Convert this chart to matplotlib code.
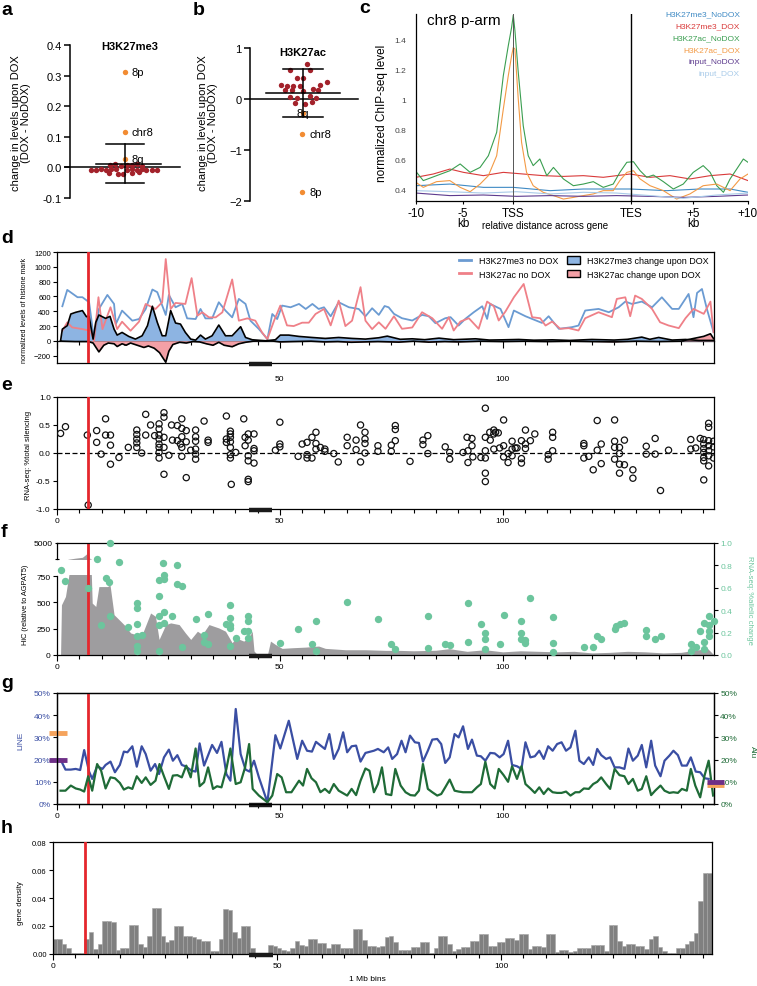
#!/usr/bin/env python3
"""Chromosome 8 histone / RNA-seq / HiC summary figure (panels a-h)."""
import matplotlib

matplotlib.use("Agg")
import matplotlib.pyplot as plt
from matplotlib.lines import Line2D
from matplotlib.patches import Patch
from matplotlib.ticker import FixedLocator, MultipleLocator

W, H = 757, 987

# ---------------------------------------------------------------- data
# a: H3K27me3 change per chromosome arm (beeswarm around x=0)
a_red_x = [-0.62, -0.53, -0.44, -0.34, -0.25, -0.16, 0.03, 0.12, 0.21, 0.30, 0.39, 0.49, 0.58,
           -0.27, -0.18, -0.08, 0.03, 0.12, 0.21, 0.30, -0.30, -0.12, -0.03, 0.12, 0.26]
a_red_y = [-0.008, -0.008, -0.006, -0.007, -0.005, -0.006, -0.008, -0.006, -0.007, -0.005, -0.008, -0.007, -0.008,
           0.008, 0.010, 0.006, 0.009, 0.007, 0.010, 0.006, -0.018, -0.020, -0.022, -0.019, -0.016]
a_hl_labels = ["8p", "chr8", "8q"]
a_hl_y = [0.313, 0.115, 0.027]
a_mean, a_sd = 0.012, (-0.052, 0.078)

# b: H3K27ac change
b_red_x = [0.07, -0.25, 0.14, -0.12, 0.0, -0.42, -0.31, -0.18, -0.05, 0.32, 0.45, -0.34, -0.21, 0.0,
           0.19, 0.29, -0.25, -0.12, 0.14, 0.25, -0.15, 0.04, 0.17]
b_red_y = [0.69, 0.57, 0.56, 0.41, 0.41, 0.27, 0.26, 0.25, 0.25, 0.27, 0.33, 0.18, 0.18, 0.16,
           0.20, 0.18, 0.03, 0.01, 0.05, 0.01, -0.08, -0.09, -0.05]
b_hl_labels = ["8q", "chr8", "8p"]
b_hl_y = [-0.28, -0.69, -1.82]
b_mean, b_sd = 0.11, (-0.36, 0.59)

# c: metagene profiles (x in % of plotted span; TSS / TES positions)
c_tss, c_tes = 29.3, 64.8
c_tick_pos = [0, 14.2, 29.3, 64.8, 83.4, 100]
c_tick_lab = ["-10", "-5", "TSS", "TES", "+5", "+10"]
c_names = ["H3K27me3_NoDOX", "H3K27me3_DOX", "H3K27ac_NoDOX", "H3K27ac_DOX", "input_NoDOX", "input_DOX"]
c_colors = ["#3f8ac4", "#d93a3a", "#3a9e50", "#f39a45", "#5d3b8e", "#a9cbe9"]
c_me3_nodox_x = [0, 10.2, 20.3, 29.3, 40.4, 50.4, 64.5, 75.5, 85.5, 94.6, 100]
c_me3_nodox_y = [0.422, 0.433, 0.411, 0.411, 0.389, 0.4, 0.4, 0.389, 0.4, 0.4, 0.378]
c_me3_dox_x = [0, 5.2, 10.2, 14.3, 20.3, 26.3, 32.3, 38.3, 44.4, 50.4, 56.4, 60.4, 64.5, 70.5,
               76.5, 82.5, 88.6, 94.6, 100]
c_me3_dox_y = [0.478, 0.5, 0.533, 0.511, 0.489, 0.511, 0.5, 0.489, 0.484, 0.489, 0.478, 0.489, 0.5,
               0.478, 0.489, 0.467, 0.489, 0.5, 0.456]
c_ac_nodox_x = [0, 2.2, 6.2, 10.2, 13.3, 16.3, 19.3, 21.8, 24.3, 26.3, 27.8, 28.8, 29.3, 29.8, 30.8,
                32.3, 33.8, 35.3, 37.3, 39.4, 41.4, 44.4, 47.4, 50.4, 53.4, 56.4, 59.4, 61.4, 63.5,
                65.5, 67.5, 69.5, 71.5, 74.5, 77.5, 80.5, 83.5, 86.5, 88.6, 90.6, 92.6, 94.6, 96.6,
                98.6, 100]
c_ac_nodox_y = [0.516, 0.456, 0.489, 0.522, 0.567, 0.511, 0.544, 0.622, 0.778, 1.156, 1.356, 1.478,
                1.56, 1.456, 1.178, 0.822, 0.622, 0.556, 0.600, 0.489, 0.544, 0.467, 0.422, 0.433,
                0.449, 0.411, 0.433, 0.511, 0.578, 0.582, 0.522, 0.478, 0.493, 0.449, 0.400, 0.433,
                0.511, 0.556, 0.511, 0.422, 0.378, 0.467, 0.533, 0.600, 0.578]
c_ac_dox_x = [0, 2.2, 6.2, 10.2, 13.3, 16.3, 19.3, 21.8, 24.3, 26.3, 27.8, 28.8, 29.3, 29.8, 30.8,
              31.8, 33.3, 35.3, 38.3, 41.4, 44.4, 47.4, 50.4, 53.4, 56.4, 59.4, 61.4, 63.5, 65.5,
              67.5, 70.5, 74.5, 78.5, 82.5, 86.5, 90.6, 94.6, 97.6, 100]
c_ac_dox_y = [0.444, 0.411, 0.449, 0.456, 0.411, 0.382, 0.433, 0.489, 0.622, 0.933, 1.156, 1.289,
              1.344, 1.333, 1.0, 0.711, 0.511, 0.422, 0.378, 0.356, 0.333, 0.344, 0.356, 0.367,
              0.389, 0.389, 0.456, 0.511, 0.522, 0.467, 0.422, 0.389, 0.333, 0.367, 0.422, 0.433,
              0.389, 0.467, 0.5]
c_input_x = [0, 10.2, 20.3, 30.3, 40.4, 50.4, 60.4, 70.5, 80.5, 90.6, 100]
c_input_nodox_y = [0.373, 0.356, 0.36, 0.351, 0.356, 0.351, 0.356, 0.351, 0.344, 0.351, 0.36]
c_input_dox_y = [0.389, 0.382, 0.373, 0.382, 0.367, 0.378, 0.373, 0.356, 0.338, 0.36, 0.373]

# chromosome-wide panels: x in Mb
red_mark = 7.0
centromere = (43.0, 48.3)

# d: (Mb, level) pairs
d_me3 = [(1.2, 467), (2.3, 688), (4.6, 589), (5.7, 589), (7.2, 521), (8.3, 23), (9.4, 430), (11.3, 620),
         (12.8, 498), (13.2, 226), (14.6, 408), (16.9, 272), (18.4, 294), (19.9, 430), (21.4, 693),
         (22.5, 657), (24.4, 349), (25.1, 620), (26.6, 453), (28.1, 498), (29.2, 303), (31.1, 294),
         (32.2, 430), (33.3, 303), (34.8, 303), (36.3, 521), (37.8, 408), (39.3, 317), (40.8, 566),
         (42.3, 498), (43.4, 272), (45.3, 159), (47.2, 23), (48.3, 362), (49.4, 294), (50.5, 476),
         (52.4, 453), (54.3, 498), (55.8, 430), (57.3, 498), (58.7, 430), (59.9, 453), (61.4, 331),
         (63.2, 521), (65.5, 453), (67.7, 430), (69.2, 331), (70.7, 440), (72.2, 350), (73.5, 470),
         (74.4, 453), (75.6, 364), (77.4, 305), (79.7, 274), (81.9, 350), (83.4, 332), (84.9, 238),
         (87.1, 305), (88.3, 319), (90.1, 206), (91.6, 296), (93.5, 386), (95.4, 467), (96.5, 296),
         (97.2, 498), (99.5, 431), (101.3, 184), (102.5, 409), (105.1, 332), (108.8, 242), (110.3, 332),
         (112.6, 162), (115.5, 184), (117.0, 206), (118.5, 409), (121.5, 431), (123.8, 386), (126.0, 453),
         (127.5, 530), (129.0, 498), (131.2, 530), (133.5, 453), (135.7, 588), (138.0, 431), (139.5, 431),
         (141.7, 633), (142.8, 319), (143.6, 647), (144.7, 700), (145.8, 431), (147.3, 117)]
d_ac = [(1.2, 136), (2.3, 249), (3.4, 181), (5.7, 158), (7.5, 136), (8.3, 0), (9.3, 589), (10.2, 158),
        (12.0, 453), (13.5, 158), (14.6, 258), (16.5, 136), (18.4, 258), (19.9, 498), (22.1, 430),
        (23.6, 521), (24.4, 1105), (25.5, 430), (26.6, 512), (28.8, 498), (30.2, 847), (31.5, 340),
        (32.6, 385), (34.1, 317), (35.6, 317), (37.1, 385), (39.3, 829), (40.8, 272), (42.7, 303),
        (44.5, 272), (46.0, 113), (47.2, 23), (48.7, 272), (50.1, 476), (51.6, 208), (53.1, 199),
        (55.0, 245), (56.5, 245), (58.0, 362), (59.9, 430), (61.4, 208), (63.2, 543), (64.7, 199),
        (66.2, 272), (68.1, 725), (69.2, 272), (70.7, 158), (72.2, 250), (73.7, 162), (75.6, 332),
        (77.4, 162), (79.7, 180), (81.9, 386), (84.2, 305), (86.4, 162), (87.9, 319), (89.0, 139),
        (90.5, 260), (92.4, 305), (94.6, 162), (96.5, 530), (98.0, 467), (99.1, 274), (100.6, 395),
        (102.5, 588), (104.7, 768), (106.6, 319), (108.4, 305), (109.6, 206), (111.1, 260), (112.9, 162),
        (114.8, 171), (117.0, 139), (118.5, 305), (121.5, 386), (124.5, 319), (125.6, 566), (127.5, 588),
        (128.6, 332), (129.7, 611), (131.2, 566), (133.5, 431), (135.3, 251), (137.2, 207), (139.5, 171),
        (141.0, 305), (142.8, 431), (145.1, 364), (146.6, 530), (147.3, 117)]
d_me3_change = [(0.8, 0), (1.2, 158), (2.3, 204), (3.1, 362), (4.2, 385), (5.7, 408), (6.6, 326),
                (7.2, 330), (8.1, 23), (8.7, 249), (9.4, 349), (10.9, 303), (11.9, 330), (12.8, 158),
                (13.5, 77), (14.6, 113), (16.1, 59), (17.6, 23), (19.1, 68), (20.3, 204), (21.4, 467),
                (22.5, 249), (23.6, 68), (24.4, 68), (25.5, 408), (26.6, 240), (27.7, 226), (28.8, 113),
                (30.0, 23), (31.1, 9), (32.2, 77), (33.3, 23), (34.8, 68), (36.3, 213), (37.8, 68),
                (39.3, 68), (41.2, 190), (42.3, 45), (43.8, 14), (46.8, 0), (49.0, 14), (50.1, 77),
                (52.0, 77), (54.3, 59), (57.2, 45), (60.2, 32), (63.2, 45), (66.2, 32), (69.2, 23),
                (72.2, 41), (74.1, 63), (77.0, 20), (79.7, 27), (82.5, 15), (85.7, 36), (89.0, 15),
                (93.9, 27), (97.0, 10), (99.9, 13), (103.6, 18), (107.0, 8), (111.1, 13), (115.0, 5),
                (120.0, 18), (125.0, 10), (128.0, 20), (131.2, 50), (133.0, 20), (135.0, 45), (138.0, 10),
                (141.0, 18), (144.0, 5), (147.3, 5)]
d_ac_change = [(0.8, 0), (1.2, -5), (4.0, -10), (7.0, -10), (8.1, -30), (9.4, -150), (10.5, -60),
               (11.5, -30), (12.8, -40), (13.5, -77), (14.6, -40), (15.5, -60), (16.5, -30), (18.0, -60),
               (19.5, -90), (20.5, -70), (21.8, -100), (23.0, -160), (24.4, -290), (25.1, -140),
               (26.0, -50), (27.5, -20), (29.0, -30), (30.5, -10), (32.0, -15), (33.5, -40), (35.0, -60),
               (36.3, -20), (37.5, -60), (39.3, -80), (40.8, -40), (42.3, -20), (44.0, -5), (46.0, 0),
               (48.0, 0), (50.0, -15), (53.0, -10), (57.0, -5), (60.0, -15), (63.0, -10), (66.0, -20),
               (69.0, -15), (72.0, -10), (76.7, -18), (80.0, -5), (83.4, -18), (87.0, -10), (90.0, -15),
               (95.0, -5), (100.0, -10), (105.0, -5), (110.0, -10), (115.0, -5), (120.0, -10),
               (125.0, -15), (130.0, -5), (135.0, -10), (140.0, -5), (142.7, 30), (145.1, 60),
               (146.6, 95), (147.3, 30)]

# e: RNA-seq total silencing per gene (Mb, fraction)
e_genes = [(0.8, 0.35), (1.9, 0.47), (6.8, 0.32), (7.0, -0.93), (8.9, 0.40), (8.9, 0.19), (9.9, -0.02),
           (10.9, 0.61), (10.9, 0.32), (12.0, 0.32), (12.0, 0.14), (12.0, -0.20), (13.9, -0.08), (16.0, 0.10),
           (17.9, 0.41), (17.9, 0.33), (17.9, 0.25), (17.9, 0.18), (17.9, 0.10), (19.0, 0.0), (19.9, 0.69),
           (19.9, 0.32), (21.0, 0.50), (21.9, 0.31), (22.9, 0.52), (22.9, 0.43), (22.9, 0.32), (22.9, 0.25),
           (22.9, 0.16), (22.9, 0.10), (22.9, 0.01), (22.9, -0.09), (24.0, 0.72), (24.0, 0.64), (24.0, 0.28),
           (24.0, 0.10), (24.0, -0.38), (25.1, -0.04), (25.7, 0.50), (25.9, 0.23), (27.0, 0.49), (27.0, 0.22),
           (27.7, 0.16), (28.0, 0.61), (28.0, 0.44), (28.0, 0.29), (28.0, 0.10), (28.0, -0.06), (29.0, 0.40),
           (29.0, 0.20), (29.0, -0.44), (30.0, 0.05), (31.1, 0.41), (31.1, 0.29), (31.1, 0.21), (31.1, 0.07),
           (31.1, -0.02), (31.1, -0.11), (33.0, 0.57), (33.9, 0.23), (33.9, 0.19), (38.0, 0.66), (38.0, 0.25),
           (38.0, 0.19), (38.9, 0.39), (38.9, 0.34), (38.9, 0.28), (38.9, 0.20), (38.9, 0.10), (38.9, -0.03),
           (38.9, -0.09), (39.1, -0.56), (40.1, 0.01), (41.9, 0.61), (42.2, 0.28), (42.2, 0.13), (42.9, 0.34),
           (42.9, 0.23), (42.9, -0.05), (42.9, -0.14), (42.9, -0.47), (42.9, -0.51), (44.2, 0.34), (44.2, 0.08),
           (44.2, 0.04), (44.2, -0.18), (49.0, 0.05), (50.0, 0.55), (50.0, 0.16), (50.0, 0.11), (54.1, -0.06),
           (55.0, 0.16), (56.1, 0.19), (56.1, -0.03), (56.1, -0.09), (57.2, 0.28), (57.2, -0.09), (58.1, 0.37),
           (58.1, 0.17), (58.1, 0.07), (59.1, 0.10), (60.1, 0.07), (60.1, 0.03), (62.1, -0.01), (63.1, -0.16),
           (65.1, 0.28), (65.1, 0.13), (67.1, 0.23), (67.1, 0.06), (68.1, 0.50), (68.1, -0.16), (69.1, 0.37),
           (69.1, 0.25), (69.1, 0.17), (69.1, 0.0), (72.0, 0.13), (72.0, 0.03), (75.0, 0.14), (75.0, 0.03),
           (75.9, 0.49), (75.9, 0.42), (75.9, 0.22), (79.2, -0.15), (82.1, 0.23), (82.1, 0.15), (83.2, 0.31),
           (83.2, -0.01), (87.1, 0.11), (88.1, 0.01), (88.1, -0.11), (91.1, 0.01), (92.0, 0.28), (92.2, 0.04),
           (92.2, -0.17), (93.1, 0.26), (93.1, 0.13), (93.3, -0.07), (95.1, -0.08), (96.1, 0.80), (96.1, 0.28),
           (96.1, 0.04), (96.1, -0.09), (96.1, -0.36), (96.1, -0.51), (97.1, 0.37), (97.2, 0.23), (98.0, 0.41),
           (98.0, 0.34), (98.4, 0.37), (99.0, 0.36), (98.0, 0.07), (99.3, 0.09), (100.2, 0.59), (100.2, 0.13),
           (100.2, -0.07), (101.2, -0.01), (101.2, -0.17), (102.1, 0.21), (102.1, 0.07), (102.1, -0.05),
           (102.8, 0.09), (103.2, 0.09), (104.2, 0.22), (104.2, -0.10), (104.2, -0.18), (105.1, 0.41),
           (105.1, 0.16), (105.1, 0.08), (106.2, 0.22), (107.2, 0.34), (110.2, -0.03), (110.2, -0.11),
           (111.2, 0.37), (111.2, 0.28), (111.2, 0.04), (118.2, 0.17), (118.2, 0.13), (118.2, -0.09),
           (119.3, -0.06), (120.3, -0.30), (121.2, 0.58), (121.2, 0.05), (122.1, 0.16), (122.1, -0.19),
           (125.1, 0.59), (125.1, 0.21), (125.1, 0.10), (125.1, -0.11), (126.2, 0.10), (126.2, -0.01),
           (126.2, -0.20), (126.2, -0.36), (127.3, 0.23), (127.3, -0.21), (129.2, -0.30), (129.2, -0.45),
           (132.2, 0.12), (132.2, -0.02), (134.2, 0.26), (134.2, -0.02), (135.4, -0.67), (137.2, 0.05),
           (142.2, 0.24), (142.2, 0.07), (143.3, 0.09), (144.3, 0.26), (145.1, 0.24), (145.1, 0.16),
           (145.1, 0.08), (145.1, 0.01), (145.1, -0.08), (145.1, -0.14), (145.1, -0.48), (146.2, 0.53),
           (146.2, 0.46), (146.2, 0.22), (146.2, 0.13), (146.2, 0.04), (146.2, -0.05), (146.2, -0.23),
           (147.3, 0.21), (147.3, 0.11), (147.3, -0.09)]

# f: HiC contact (relative to AGPAT5) and RNA-seq allelic change
f_hic = [(0.8, 0), (1.0, 477), (1.9, 556), (2.7, 770), (2.9, 800), (4.0, 1000), (5.7, 1250), (6.6, 2100),
         (6.95, 5000), (7.2, 1500), (7.4, 800), (7.7, 770), (7.9, 493), (8.7, 461), (9.4, 650), (11.3, 650),
         (11.9, 665), (12.8, 383), (14.3, 320), (15.4, 273), (16.5, 210), (17.6, 195), (19.1, 195),
         (21.0, 399), (22.1, 367), (22.9, 148), (24.4, 289), (25.5, 305), (27.4, 289), (28.8, 210),
         (30.0, 148), (31.5, 226), (32.6, 195), (34.1, 289), (36.3, 257), (37.8, 226), (39.3, 116),
         (40.1, 163), (41.9, 132), (43.0, 163), (43.8, 226), (44.2, 38), (44.9, 6), (47.2, 0), (47.9, 132),
         (49.0, 100), (50.5, 63), (52.8, 69), (55.8, 75), (58.7, 85), (60.2, 63), (64.7, 50), (69.2, 50),
         (73.7, 44), (76.7, 44), (80, 40), (85, 45), (88, 60), (92, 35), (96, 50), (100, 30), (104, 40),
         (108, 35), (112, 30), (116, 35), (120, 20), (124, 25), (128, 35), (132, 30), (136, 20), (140, 25),
         (144, 50), (146, 60), (147.4, 0)]
f_rna = [(0.8, 0.76), (1.9, 0.66), (7.0, 0.60), (8.9, 0.86), (9.9, 0.27), (10.9, 0.69), (11.7, 0.65),
         (12.0, 1.0), (12.0, 0.35), (13.9, 0.83), (16.0, 0.25), (17.9, 0.46), (17.9, 0.42), (17.9, 0.28),
         (17.9, 0.17), (17.9, 0.08), (17.9, 0.04), (19.0, 0.18), (22.9, 0.67), (22.9, 0.53), (22.9, 0.35),
         (22.9, 0.27), (22.9, 0.04), (23.8, 0.82), (24.0, 0.71), (24.0, 0.68), (24.0, 0.38), (24.0, 0.29),
         (25.9, 0.35), (27.0, 0.80), (27.0, 0.63), (28.0, 0.62), (28.0, 0.07), (31.1, 0.32), (33.0, 0.18),
         (33.0, 0.12), (33.9, 0.37), (33.9, 0.10), (38.0, 0.28), (38.9, 0.45), (38.9, 0.33), (38.9, 0.27),
         (38.9, 0.24), (38.9, 0.08), (40.1, 0.15), (41.9, 0.21), (42.9, 0.35), (42.9, 0.30), (42.9, 0.21),
         (42.9, 0.15), (50.0, 0.11), (54.1, 0.23), (57.2, 0.10), (58.1, 0.30), (58.1, 0.04), (65.1, 0.47),
         (72.0, 0.32), (75.0, 0.10), (75.9, 0.05), (83.2, 0.35), (83.2, 0.06), (87.1, 0.10), (88.1, 0.09),
         (92.2, 0.46), (92.2, 0.12), (95.1, 0.28), (96.1, 0.20), (96.1, 0.14), (96.1, 0.05), (99.3, 0.10),
         (100.2, 0.36), (104.2, 0.30), (104.2, 0.20), (104.2, 0.14), (105.1, 0.13), (105.1, 0.11),
         (106.2, 0.51), (111.2, 0.34), (111.2, 0.11), (111.2, 0.03), (118.2, 0.07), (120.3, 0.07),
         (121.2, 0.17), (122.1, 0.14), (125.1, 0.23), (125.4, 0.26), (126.2, 0.28), (127.3, 0.29),
         (132.2, 0.22), (132.2, 0.17), (134.2, 0.14), (135.4, 0.17), (142.2, 0.10), (142.2, 0.04),
         (143.3, 0.07), (144.3, 0.21), (145.1, 0.29), (145.1, 0.12), (145.1, 0.05), (146.2, 0.35),
         (146.2, 0.27), (146.2, 0.21), (146.2, 0.17), (147.3, 0.30)]

# g: repeat content (% per bin)
g_line = [(0.1, 20.3), (0.8, 20.0), (1.9, 15.5), (3.1, 15.5), (4.2, 15.8), (5.2, 15.3), (6.1, 24.3),
          (7.2, 14.6), (7.9, 11.3), (9.0, 17.0), (10.2, 15.8), (10.9, 17.6), (12.0, 19.1), (13.0, 14.3),
          (14.1, 17.6), (15.0, 23.6), (15.8, 23.3), (16.9, 26.0), (17.9, 16.8), (19.0, 26.0), (19.9, 22.5),
          (21.0, 15.0), (22.0, 18.0), (22.9, 13.5), (24.0, 21.0), (25.1, 24.5), (26.0, 19.5), (27.0, 22.0),
          (28.0, 17.6), (28.8, 17.0), (30.2, 15.0), (31.1, 14.6), (32.0, 27.3), (33.0, 17.3), (34.8, 26.6),
          (35.9, 23.0), (36.9, 28.0), (38.0, 13.5), (38.9, 10.5), (40.1, 42.8), (41.2, 22.5), (42.3, 15.5),
          (43.2, 14.6), (44.2, 19.5), (45.3, 12.0), (47.2, 0.8), (49.0, 31.0), (50.1, 25.0), (52.0, 37.5),
          (53.9, 20.3), (55.0, 28.5), (56.1, 24.0), (57.2, 23.6), (58.1, 28.0), (60.1, 24.8), (61.1, 31.5),
          (62.1, 20.3), (63.2, 24.8), (64.2, 32.3), (65.1, 23.3), (66.1, 26.0), (67.1, 26.3), (68.1, 19.1),
          (69.2, 23.0), (71.1, 24.0), (72.0, 24.8), (73.3, 23.3), (74.3, 25.5), (75.2, 20.3), (76.3, 22.5),
          (77.3, 28.5), (78.2, 23.3), (79.2, 30.8), (80.3, 27.8), (81.2, 27.5), (82.1, 19.1), (83.2, 24.0),
          (84.2, 29.0), (85.3, 29.3), (86.2, 27.0), (87.1, 18.5), (88.1, 21.0), (89.2, 31.5), (90.1, 30.0),
          (91.1, 35.0), (92.2, 24.8), (93.1, 29.0), (94.2, 21.8), (95.1, 21.5), (96.1, 19.5), (97.2, 23.0),
          (98.2, 22.8), (99.3, 21.0), (100.2, 22.5), (101.2, 28.5), (102.1, 17.6), (103.2, 17.0),
          (104.2, 15.8), (105.1, 27.8), (106.2, 21.0), (107.2, 21.5), (108.2, 24.0), (109.2, 20.3),
          (110.2, 26.0), (111.2, 24.0), (112.2, 27.0), (113.2, 27.8), (114.2, 24.0), (115.2, 25.5),
          (116.3, 33.0), (117.2, 19.5), (118.2, 18.0), (119.3, 21.0), (120.3, 17.6), (121.2, 24.8),
          (122.1, 22.0), (123.2, 20.3), (124.1, 21.0), (125.1, 16.5), (126.2, 16.5), (127.3, 15.8),
          (128.2, 25.0), (129.2, 19.5), (130.3, 21.8), (131.2, 26.6), (132.2, 16.5), (133.3, 28.5),
          (134.2, 17.3), (135.4, 12.5), (136.3, 19.5), (137.4, 21.8), (138.3, 24.0), (139.3, 22.0),
          (140.2, 17.3), (141.3, 17.3), (142.2, 21.0), (143.3, 14.6), (144.3, 14.3), (145.3, 11.6),
          (146.2, 11.3)]
g_alu = [(0.8, 6.0), (1.9, 6.0), (3.1, 8.3), (4.2, 7.0), (5.2, 6.5), (6.1, 5.6), (7.0, 12.5), (7.9, 6.0),
         (9.0, 18.0), (9.9, 15.0), (10.9, 7.0), (12.0, 12.0), (13.0, 11.6), (14.1, 9.5), (15.0, 6.5),
         (16.0, 7.5), (16.9, 6.8), (17.9, 12.5), (19.0, 9.5), (19.9, 12.0), (21.0, 8.6), (22.1, 10.5),
         (23.0, 18.0), (24.0, 12.5), (25.1, 6.8), (26.0, 12.8), (27.0, 13.0), (28.0, 12.0), (29.0, 17.3),
         (30.0, 12.0), (31.1, 25.0), (32.0, 8.0), (33.0, 9.8), (33.9, 16.5), (35.0, 6.8), (35.9, 8.0),
         (36.9, 7.5), (38.0, 15.8), (38.9, 25.0), (40.1, 9.0), (41.2, 9.8), (42.2, 16.5), (43.1, 27.0),
         (43.9, 6.8), (45.3, 3.8), (47.2, 0.8), (48.3, 3.8), (49.4, 13.5), (50.4, 12.0), (51.4, 5.3),
         (52.6, 5.3), (54.3, 10.5), (55.2, 8.3), (56.1, 15.8), (57.1, 11.6), (58.1, 9.8), (59.1, 5.3),
         (60.1, 6.8), (61.1, 5.0), (62.1, 9.0), (63.2, 6.0), (65.1, 3.8), (66.1, 6.8), (67.1, 4.0),
         (68.1, 10.5), (69.2, 16.0), (70.1, 15.0), (71.1, 5.3), (72.0, 9.0), (72.9, 16.5), (73.8, 4.5),
         (75.0, 4.0), (75.9, 15.8), (77.1, 8.3), (78.2, 5.3), (79.3, 4.0), (80.3, 3.8), (81.2, 6.0),
         (82.1, 18.0), (83.2, 6.8), (84.2, 5.3), (85.3, 3.8), (86.2, 4.5), (87.1, 7.5), (88.1, 11.0),
         (89.2, 6.0), (90.1, 5.6), (91.1, 5.3), (92.2, 5.3), (93.1, 5.3), (94.2, 7.5), (95.1, 9.0),
         (96.1, 19.0), (97.2, 9.0), (98.2, 7.0), (99.1, 15.8), (100.2, 13.0), (101.2, 10.0), (102.1, 17.0),
         (103.2, 11.3), (104.2, 17.0), (105.1, 9.0), (106.2, 7.0), (107.2, 5.0), (108.2, 7.5), (109.2, 4.5),
         (110.2, 7.0), (111.2, 5.3), (112.2, 5.0), (113.2, 5.0), (114.2, 5.6), (115.2, 3.8), (116.3, 5.3),
         (117.2, 5.3), (118.2, 7.0), (119.3, 6.8), (120.3, 9.0), (121.2, 10.0), (122.1, 12.0), (123.2, 9.0),
         (124.1, 6.8), (125.1, 15.8), (126.2, 13.0), (127.3, 12.5), (128.2, 9.0), (129.2, 11.3),
         (130.3, 6.0), (131.2, 6.8), (132.2, 12.5), (133.3, 4.0), (134.2, 6.0), (135.4, 8.3), (136.3, 6.0),
         (137.4, 5.0), (138.3, 5.3), (139.3, 5.0), (140.2, 6.8), (141.3, 6.0), (142.2, 15.8), (143.2, 8.3),
         (144.3, 3.0), (145.3, 13.0), (146.2, 19.5), (147.2, 3.8)]
# genome-wide averages shown as short bars at the axis edges (LINE, Alu)
g_avg_left = {"orange": 32.0, "purple": 20.0}
g_avg_right = {"orange": 8.5, "purple": 10.0}

# h: gene density per 1 Mb bin
h_density = [0.011, 0.011, 0.0075, 0.0043, 0.0006, 0.0006, 0.0006, 0.011, 0.0156, 0.0035,
             0.0075, 0.0235, 0.0235, 0.023, 0.003, 0.0043, 0.0043, 0.0205, 0.0205, 0.007,
             0.005, 0.013, 0.033, 0.033, 0.013, 0.0085, 0.010, 0.020, 0.020, 0.0127,
             0.0127, 0.012, 0.0105, 0.009, 0.009, 0.0022, 0.0022, 0.011, 0.032, 0.0315,
             0.016, 0.0115, 0.020, 0.020, 0.0043, 0.0007, 0.0007, 0.0007, 0.0065, 0.0055,
             0.0046, 0.003, 0.0025, 0.004, 0.009, 0.0065, 0.006, 0.011, 0.011, 0.008,
             0.008, 0.004, 0.0075, 0.0075, 0.0045, 0.0045, 0.004, 0.018, 0.018, 0.010,
             0.006, 0.006, 0.005, 0.0055, 0.0125, 0.013, 0.0085, 0.003, 0.003, 0.003,
             0.0053, 0.0053, 0.0085, 0.0085, 0.001, 0.0043, 0.013, 0.013, 0.0072, 0.0024,
             0.0036, 0.0053, 0.0053, 0.0096, 0.0096, 0.0144, 0.0144, 0.006, 0.006, 0.0085,
             0.0085, 0.0115, 0.0115, 0.0103, 0.0144, 0.0144, 0.0036, 0.0055, 0.0055, 0.0048,
             0.0144, 0.0144, 0.0012, 0.003, 0.003, 0.0012, 0.002, 0.004, 0.004, 0.004,
             0.0065, 0.0065, 0.0065, 0.002, 0.021, 0.021, 0.009, 0.006, 0.0072, 0.0072,
             0.0055, 0.0055, 0.0036, 0.0108, 0.0127, 0.0048, 0.0024, 0.0005, 0.0005, 0.004,
             0.004, 0.0072, 0.0096, 0.015, 0.0377, 0.058, 0.058, 0.0115]

# ---------------------------------------------------------------- style
RED_DOT = "#a3222b"
ORANGE = "#f28c32"
RED_LINE = "#e5272d"
ME3_BLUE = "#6b9bd2"
AC_RED = "#ef8088"
ME3_FILL = "#8db4e2"
AC_FILL = "#f3a0a6"
HIC_GRAY = "#9e9d9f"
RNA_GREEN = "#6cc59d"
LINE_BLUE = "#3a4ea3"
ALU_GREEN = "#1f6b37"
XMAX = 147.4

plt.rcParams["font.family"] = ["Liberation Sans", "DejaVu Sans"]
plt.rcParams["axes.linewidth"] = 0.9


def box(l, t, r, b):
    """pixel box (left, top, right, bottom) -> figure fraction rect"""
    return [l / W, 1 - b / H, (r - l) / W, (b - t) / H]


def xy(pairs):
    return [p[0] for p in pairs], [p[1] for p in pairs]


def fig_text(x, y, s, **kw):
    fig.text(x / W, 1 - y / H, s, **kw)


def bin_ticks(ax, labels=True, size=6):
    ax.xaxis.set_major_locator(FixedLocator([0, 50, 100]))
    ax.xaxis.set_minor_locator(MultipleLocator(5))
    ax.tick_params(axis="x", which="major", length=4, width=0.8, labelsize=size, pad=2,
                   labelbottom=labels)
    ax.tick_params(axis="x", which="minor", length=3, width=0.8)


def mark_centromere(ax, x0, x1):
    ax.plot([x0, x1], [-0.012, -0.012], transform=ax.get_xaxis_transform(), color="#1a1a1a",
            lw=3.2, solid_capstyle="butt", clip_on=False, zorder=6)


fig = plt.figure(figsize=(W / 100, H / 100), dpi=100)

# ---------------------------------------------------------------- a
ax = fig.add_axes(box(70, 46, 180, 199))
ax.set_xlim(-1, 1)
ax.set_ylim(-0.1, 0.4)
for s in ("top", "right", "bottom"):
    ax.spines[s].set_visible(False)
ax.spines["left"].set_linewidth(1.1)
ax.set_xticks([])
ax.set_yticks([-0.1, 0, 0.1, 0.2, 0.3, 0.4])
ax.set_yticklabels(["-0.1", "0.0", "0.1", "0.2", "0.3", "0.4"])
ax.tick_params(axis="y", labelsize=8, length=4, width=1.1, pad=2)
ax.plot([-1.09, 1.0], [0, 0], color="k", lw=1.1, clip_on=False, zorder=2)
ax.scatter(a_red_x, a_red_y, s=15, color=RED_DOT, zorder=3, linewidths=0)
ax.scatter([0] * len(a_hl_y), a_hl_y, s=15, color=ORANGE, zorder=3, linewidths=0)
for lab, yv in zip(a_hl_labels, a_hl_y):
    ax.text(0.11, yv, lab, fontsize=8, va="center", ha="left", zorder=5)
ax.plot([-0.52, 0.66], [a_mean, a_mean], color="k", lw=1.1, zorder=4)
ax.plot([0, 0], a_sd, color="k", lw=1.1, zorder=4)
for yv in a_sd:
    ax.plot([-0.34, 0.34], [yv, yv], color="k", lw=1.1, zorder=4)
ax.text(0.09, 0.397, "H3K27me3", fontsize=8, fontweight="bold", ha="center", va="center")
fig_text(21, 123, "change in levels upon DOX\n(DOX - NoDOX)", rotation=90, ha="center",
         va="center", fontsize=8, linespacing=1.1)

# ---------------------------------------------------------------- b
ax = fig.add_axes(box(250, 49, 360, 202))
ax.set_xlim(-1, 1.075)
ax.set_ylim(-2, 1)
for s in ("top", "right", "bottom"):
    ax.spines[s].set_visible(False)
ax.spines["left"].set_linewidth(1.1)
ax.set_xticks([])
ax.set_yticks([-2, -1, 0, 1])
ax.tick_params(axis="y", labelsize=8, length=4, width=1.1, pad=2)
ax.plot([-1, 1.04], [0, 0], color="k", lw=1.1, zorder=2)
ax.scatter(b_red_x, b_red_y, s=15, color=RED_DOT, zorder=3, linewidths=0)
ax.scatter([0, -0.01, -0.01], b_hl_y, s=15, color=ORANGE, zorder=3, linewidths=0)
ax.text(0.0, b_hl_y[0], b_hl_labels[0], fontsize=8, ha="center", va="center", zorder=5)
for lab, yv in zip(b_hl_labels[1:], b_hl_y[1:]):
    ax.text(0.12, yv, lab, fontsize=8, va="center", ha="left")
ax.plot([-0.69, 0.70], [b_mean, b_mean], color="k", lw=1.1, zorder=4)
ax.plot([0, 0], b_sd, color="k", lw=1.1, zorder=4)
for yv in b_sd:
    ax.plot([-0.37, 0.37], [yv, yv], color="k", lw=1.1, zorder=4)
ax.text(0.0, 0.92, "H3K27ac", fontsize=8, fontweight="bold", ha="center", va="center")
fig_text(208, 123, "change in levels upon DOX\n(DOX - NoDOX)", rotation=90, ha="center",
         va="center", fontsize=8, linespacing=1.1)

# ---------------------------------------------------------------- c
ax = fig.add_axes(box(416, 15, 748, 202))
ax.set_xlim(0, 100)
ax.set_ylim(0.32, 1.567)
for s in ("top", "right"):
    ax.spines[s].set_visible(False)
series = [(c_me3_nodox_x, c_me3_nodox_y), (c_me3_dox_x, c_me3_dox_y),
          (c_ac_nodox_x, c_ac_nodox_y), (c_ac_dox_x, c_ac_dox_y),
          (c_input_x, c_input_nodox_y), (c_input_x, c_input_dox_y)]
for (sx, sy), col in zip(series, c_colors):
    ax.plot(sx, sy, color=col, lw=0.8)
ax.axvline(c_tss, color="#555555", lw=0.7)
ax.axvline(c_tes, color="k", lw=1.0)
ax.set_yticks([0.4, 0.6, 0.8, 1.0, 1.2, 1.4])
ax.set_yticklabels(["0.4", "0.6", "0.8", "1", "1.2", "1.4"])
ax.tick_params(axis="y", labelsize=6, length=0, pad=7, labelcolor="#444444")
ax.set_xticks(c_tick_pos)
ax.set_xticklabels(c_tick_lab)
ax.tick_params(axis="x", labelsize=8.5, length=2, pad=2)
ax.text(3.3, 1.53, "chr8 p-arm", fontsize=11, va="center", ha="left")
for i, (name, col) in enumerate(zip(c_names, c_colors)):
    fig_text(740, 15 + 12 * i, name, color=col, fontsize=6, ha="right", va="center")
fig_text(463, 224, "kb", fontsize=8.5, ha="center", va="center")
fig_text(693, 224, "kb", fontsize=8.5, ha="center", va="center")
fig_text(545, 226, "relative distance across gene", fontsize=7, ha="center", va="center")
fig_text(382, 113, "normalized ChIP-seq level", rotation=90, fontsize=8.5, ha="center", va="center")

# ---------------------------------------------------------------- d
ax = fig.add_axes(box(57, 253, 714, 364))
ax.set_xlim(0, XMAX)
ax.set_ylim(-300, 1200)
cx, cy = xy(d_me3_change)
ax.fill_between(cx, 0, cy, color=ME3_FILL, lw=0, zorder=1)
ax.plot(cx, cy, color="k", lw=1.2, zorder=3)
rx, ry = xy(d_ac_change)
ax.fill_between(rx, 0, ry, color=AC_FILL, lw=0, zorder=1)
ax.plot(rx, ry, color="k", lw=1.2, zorder=3)
lx, ly = xy(d_me3)
ax.plot(lx, ly, color=ME3_BLUE, lw=1.3, zorder=2)
lx, ly = xy(d_ac)
ax.plot(lx, ly, color=AC_RED, lw=1.3, zorder=2)
ax.axvline(red_mark, color=RED_LINE, lw=2, zorder=4)
ax.set_yticks([-200, 0, 200, 400, 600, 800, 1000, 1200])
ax.tick_params(axis="y", labelsize=5.5, length=3, width=0.8, pad=1.5)
ax.set_xticks([50, 100])
ax.tick_params(axis="x", length=0, labelsize=6, pad=9)
sec = ax.secondary_xaxis(0.2)
sec.xaxis.set_major_locator(FixedLocator([0, 50, 100]))
sec.xaxis.set_minor_locator(MultipleLocator(5))
sec.tick_params(which="major", length=5, width=0.8, labelbottom=False)
sec.tick_params(which="minor", length=3, width=0.8)
sec.spines["bottom"].set_linewidth(0.9)
mark_centromere(ax, *centromere)
handles = [Line2D([], [], color=ME3_BLUE, lw=2), Line2D([], [], color=AC_RED, lw=2),
           Patch(facecolor=ME3_FILL, edgecolor="k", lw=1.0), Patch(facecolor=AC_FILL, edgecolor="k", lw=1.0)]
labels = ["H3K27me3 no DOX", "H3K27ac no DOX", "H3K27me3 change upon DOX", "H3K27ac change upon DOX"]
ax.legend(handles, labels, ncol=2, loc="upper right", bbox_to_anchor=(1.0, 1.01), frameon=False,
          fontsize=6.5, handlelength=1.4, handleheight=0.9, columnspacing=1.0, labelspacing=0.5,
          borderaxespad=0.2)
fig_text(25, 310, "normalized levels of histone mark", rotation=90, fontsize=5, ha="center", va="center")

# ---------------------------------------------------------------- e
ax = fig.add_axes(box(57, 398, 714, 510))
ax.set_xlim(0, XMAX)
ax.set_ylim(-1, 1)
ex, ey = xy(e_genes)
ax.scatter(ex, ey, s=20, facecolors="none", edgecolors="#111111", linewidths=0.9, zorder=3)
ax.axhline(0, color="k", lw=0.9, ls=(0, (4, 2)), zorder=2)
ax.axvline(red_mark, color=RED_LINE, lw=2, zorder=4)
ax.set_yticks([-1, -0.5, 0, 0.5, 1])
ax.set_yticklabels(["-1.0", "-0.5", "0.0", "0.5", "1.0"])
ax.tick_params(axis="y", labelsize=6, length=3, width=0.8, pad=1.5)
bin_ticks(ax)
mark_centromere(ax, *centromere)
fig_text(28, 455, "RNA-seq: %total silencing", rotation=90, fontsize=5.5, ha="center", va="center")

# ---------------------------------------------------------------- f
hx, hy = xy(f_hic)
lower = fig.add_axes(box(57, 576, 714, 656))
lower.set_xlim(0, XMAX)
lower.set_ylim(0, 760)
lower.fill_between(hx, 0, hy, color=HIC_GRAY, lw=0)
for s in ("top", "right"):
    lower.spines[s].set_visible(False)
lower.spines["left"].set_bounds(0, 750)
lower.set_yticks([0, 250, 500, 750])
lower.tick_params(axis="y", labelsize=6, length=3, width=0.8, pad=1.5)
bin_ticks(lower)
mark_centromere(lower, *centromere)

upper = fig.add_axes(box(57, 544, 714, 560))
upper.set_xlim(0, XMAX)
upper.set_ylim(800, 5000)
upper.fill_between(hx, 0, hy, color=HIC_GRAY, lw=0)
for s in ("top", "right", "bottom"):
    upper.spines[s].set_visible(False)
upper.set_xticks([])
upper.set_yticks([800, 5000])
upper.set_yticklabels(["", "5000"])
upper.tick_params(axis="y", labelsize=6, length=3, width=0.8, pad=1.5, direction="inout")
upper.patch.set_visible(False)

full = fig.add_axes(box(57, 544, 714, 656))
full.patch.set_visible(False)
full.set_xlim(0, XMAX)
full.set_ylim(0, 1)
for s in ("left", "bottom"):
    full.spines[s].set_visible(False)
full.set_xticks([])
full.yaxis.tick_right()
full.set_yticks([0, 0.2, 0.4, 0.6, 0.8, 1.0])
full.set_yticklabels(["0.0", "0.2", "0.4", "0.6", "0.8", "1.0"])
full.tick_params(axis="y", labelsize=6, length=3, width=0.8, pad=1.5, labelcolor=RNA_GREEN)
full.axvline(red_mark, color=RED_LINE, lw=2, zorder=2)
gx, gy = xy(f_rna)
full.scatter(gx, gy, s=28, color=RNA_GREEN, linewidths=0, zorder=3, clip_on=False)
fig_text(26, 605, "HiC (relative to AGPAT5)", rotation=90, fontsize=5.3, ha="center", va="center")
fig_text(749, 600, "RNA-seq: %allelic change", rotation=270, fontsize=5.5, ha="center", va="center",
         color=RNA_GREEN)

# ---------------------------------------------------------------- g
ax = fig.add_axes(box(57, 694, 714, 805))
ax.set_xlim(0, XMAX)
ax.set_ylim(0, 50)
bx, by = xy(g_line)
ax.plot(bx, by, color=LINE_BLUE, lw=1.6, zorder=3)
ax.axvline(red_mark, color=RED_LINE, lw=2, zorder=5)
ax.set_yticks([0, 10, 20, 30, 40, 50])
ax.set_yticklabels(["0%", "10%", "20%", "30%", "40%", "50%"])
ax.tick_params(axis="y", labelsize=6, length=3, width=0.8, pad=1.5, labelcolor=LINE_BLUE)
bin_ticks(ax)
mark_centromere(ax, *centromere)
ax.plot([-1.8, 2.3], [g_avg_left["orange"]] * 2, color="#f5a35c", lw=3.5, clip_on=False,
        solid_capstyle="butt", zorder=6)
ax.plot([-1.8, 2.3], [g_avg_left["purple"]] * 2, color="#6e2f87", lw=3.5, clip_on=False,
        solid_capstyle="butt", zorder=6)
ax2 = ax.twinx()
ax2.set_ylim(0, 50)
ax2.set_xlim(0, XMAX)
ax2.plot(*xy(g_alu), color=ALU_GREEN, lw=1.6, zorder=3)
ax2.set_yticks([0, 10, 20, 30, 40, 50])
ax2.set_yticklabels(["0%", "10%", "20%", "30%", "40%", "50%"])
ax2.tick_params(axis="y", labelsize=6, length=3, width=0.8, pad=1.5, labelcolor=ALU_GREEN)
ax2.plot([145.8, 149.6], [g_avg_right["orange"]] * 2, color="#f5a35c", lw=3.5, clip_on=False,
         solid_capstyle="butt", zorder=6)
ax2.plot([145.8, 149.6], [g_avg_right["purple"]] * 2, color="#6e2f87", lw=3.5, clip_on=False,
         solid_capstyle="butt", zorder=6)
fig_text(21, 741, "LINE", rotation=90, fontsize=6, ha="center", va="center", color=LINE_BLUE)
fig_text(752, 752, "Alu", rotation=270, fontsize=6, ha="center", va="center", color=ALU_GREEN)

# ---------------------------------------------------------------- h
ax = fig.add_axes(box(53, 843, 712, 955))
ax.set_xlim(0, 147.1)
ax.set_ylim(0, 0.08)
ax.bar(range(len(h_density)), h_density, width=1.0, align="edge", color="#808080",
       edgecolor="#a5a5a5", linewidth=0.4)
ax.axvline(7.1, color=RED_LINE, lw=2, zorder=4)
ax.set_yticks([0, 0.02, 0.04, 0.06, 0.08])
ax.set_yticklabels(["0.00", "0.02", "0.04", "0.06", "0.08"])
ax.tick_params(axis="y", labelsize=5.5, length=3, width=0.8, pad=1.5)
bin_ticks(ax)
mark_centromere(ax, 43.8, 49.0)
fig_text(20, 903, "gene density", rotation=90, fontsize=5.5, ha="center", va="center")
fig_text(367, 980, "1 Mb bins", fontsize=6, ha="center", va="center")

# ---------------------------------------------------------------- panel letters
for lab, x, y in [("a", 1, 15), ("b", 193, 15), ("c", 359, 13), ("d", 1, 243), ("e", 1, 390),
                  ("f", 1, 537), ("g", 1, 688), ("h", 1, 833)]:
    fig_text(x, y, lab, fontsize=14, fontweight="bold", ha="left", va="baseline")

fig.savefig("out.png", dpi=100)
